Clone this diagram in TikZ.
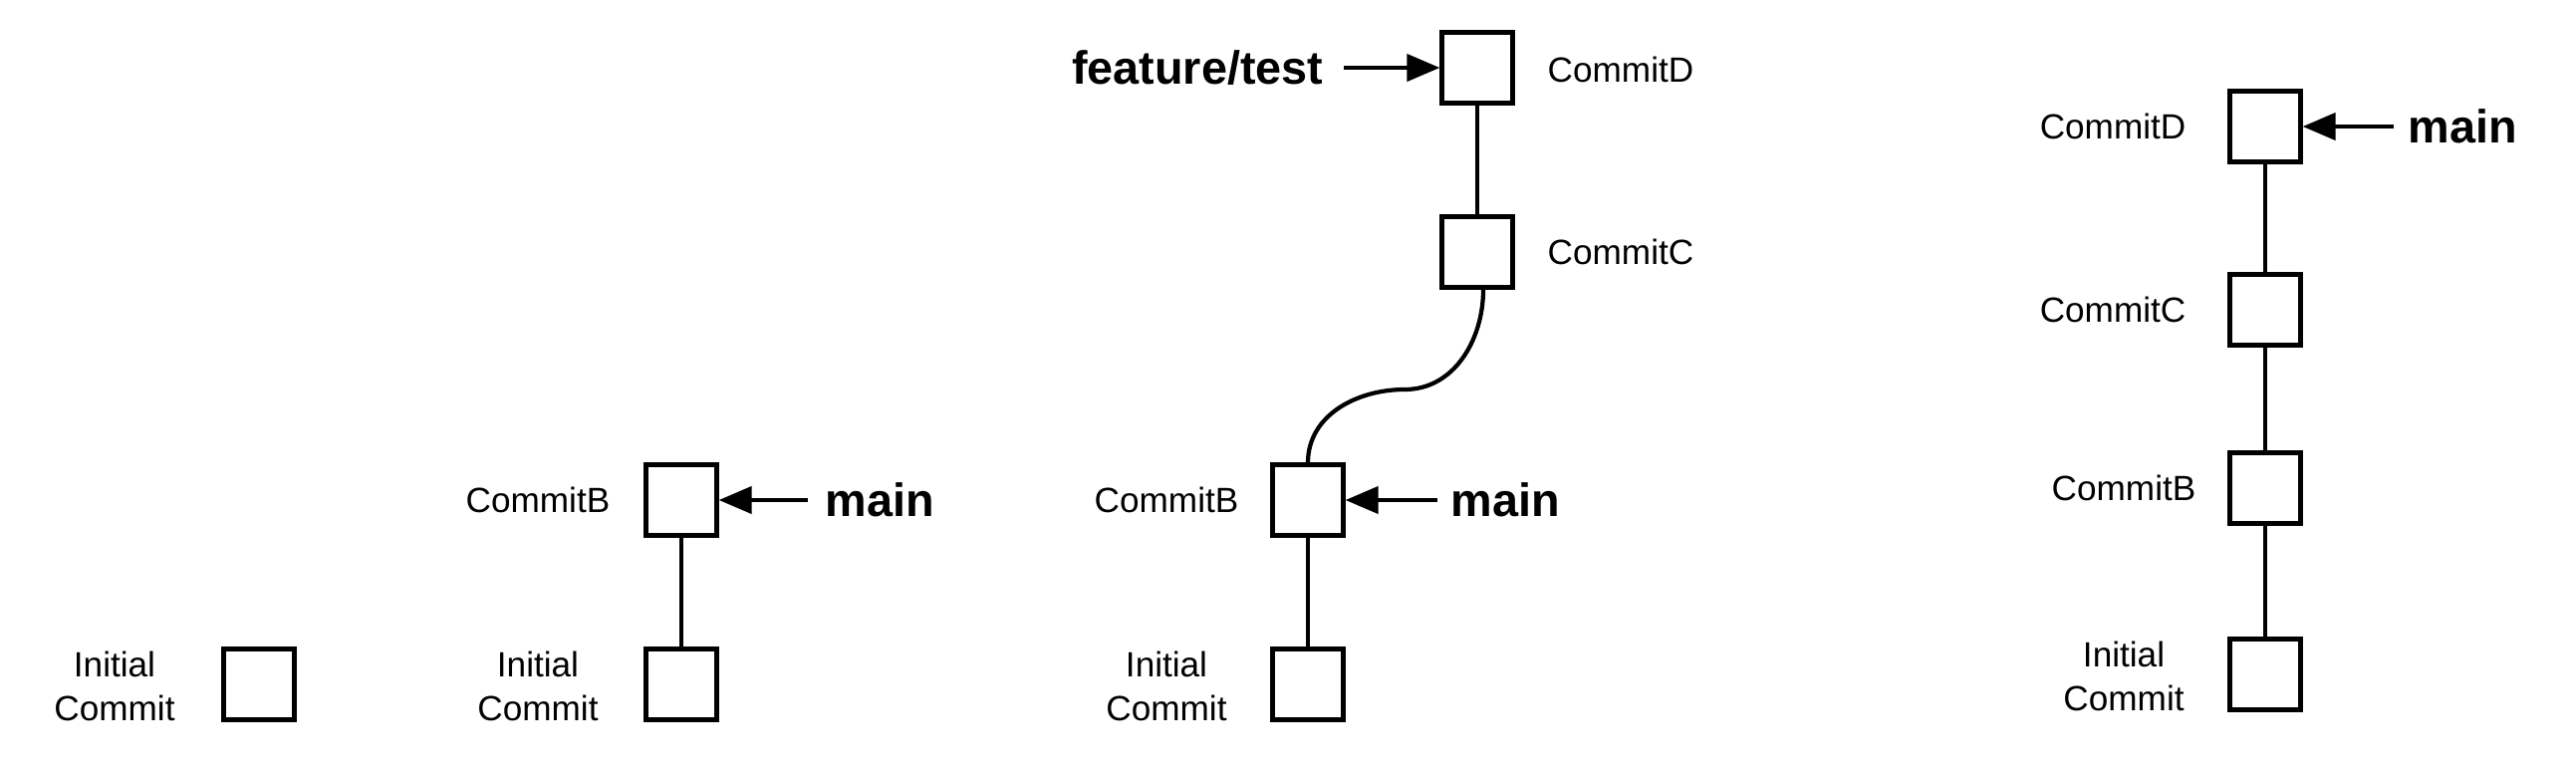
\documentclass[tikz,border=0pt]{standalone}
\usepackage{fontspec}
\setmainfont{Liberation Sans}
\usetikzlibrary{arrows.meta}
\begin{document}
\begin{tikzpicture}[x=0.01cm,y=0.01cm,
  commit/.style={draw=black,line width=1.2pt,minimum size=0.71cm,inner sep=0pt},
  lbl/.style={inner sep=0pt,align=center,font=\fontsize{10}{12.6}\selectfont},
  branch/.style={inner sep=0pt,font=\fontsize{13.3}{15}\selectfont\bfseries},
  link/.style={line width=1.2pt},
  ptr/.style={line width=1.2pt,-{Triangle[length=0.33cm,width=0.27cm]}}]
\useasboundingbox (0,0) rectangle (2586,778);
% panel 1
\node[commit] (ia) at (260,91) {};
\node[lbl] (lia) at (115,89) {Initial\\Commit};
% panel 2
\node[commit] (ib) at (684,91) {};
\node[commit] (bb) at (684,276) {};
\node[lbl] (lib) at (540,89) {Initial\\Commit};
\node[lbl] (lbb) at (540,276) {CommitB};
\node[branch,anchor=west] (mb) at (828,276) {main};
\coordinate (mbs) at (811,276);
\draw[link] (bb) -- (ib);
\draw[ptr] (mbs) -- (bb.east);
% panel 3
\node[commit] (ic) at (1313,91) {};
\node[commit] (bc) at (1313,276) {};
\node[commit] (cc) at (1483,525) {};
\node[commit] (dc) at (1483,710) {};
\node[lbl] (lic) at (1171,89) {Initial\\Commit};
\node[lbl] (lbc) at (1171,276) {CommitB};
\node[lbl,anchor=west] (lcc) at (1553,525) {CommitC};
\node[lbl,anchor=west] (ldc) at (1553,708) {CommitD};
\node[branch,anchor=east] (ft) at (1329,710) {feature/test};
\node[branch,anchor=west] (mc) at (1456,276) {main};
\coordinate (fts) at (1349,710);
\coordinate (mcs) at (1443,276);
\coordinate (mid) at (1410,387);
\draw[link] (bc) -- (ic);
\draw[link] (dc) -- (cc);
\draw[link] ([xshift=0.06cm]cc.south) to[out=-90,in=0,looseness=1] (mid) to[out=180,in=90,looseness=1] (bc.north);
\draw[ptr] (fts) -- (dc.west);
\draw[ptr] (mcs) -- (bc.east);
% panel 4
\node[commit] (id) at (2274,101) {};
\node[commit] (bd) at (2274,288) {};
\node[commit] (cd) at (2274,467) {};
\node[commit] (dd) at (2274,651) {};
\node[lbl] (lid) at (2132,99) {Initial\\Commit};
\node[lbl] (lbd) at (2132,288) {CommitB};
\node[lbl] (lcd) at (2121,467) {CommitC};
\node[lbl] (ldd) at (2121,651) {CommitD};
\node[branch,anchor=west] (md) at (2417,651) {main};
\coordinate (mds) at (2403,651);
\draw[link] (dd) -- (cd);
\draw[link] (cd) -- (bd);
\draw[link] (bd) -- (id);
\draw[ptr] (mds) -- (dd.east);
\end{tikzpicture}
\end{document}
